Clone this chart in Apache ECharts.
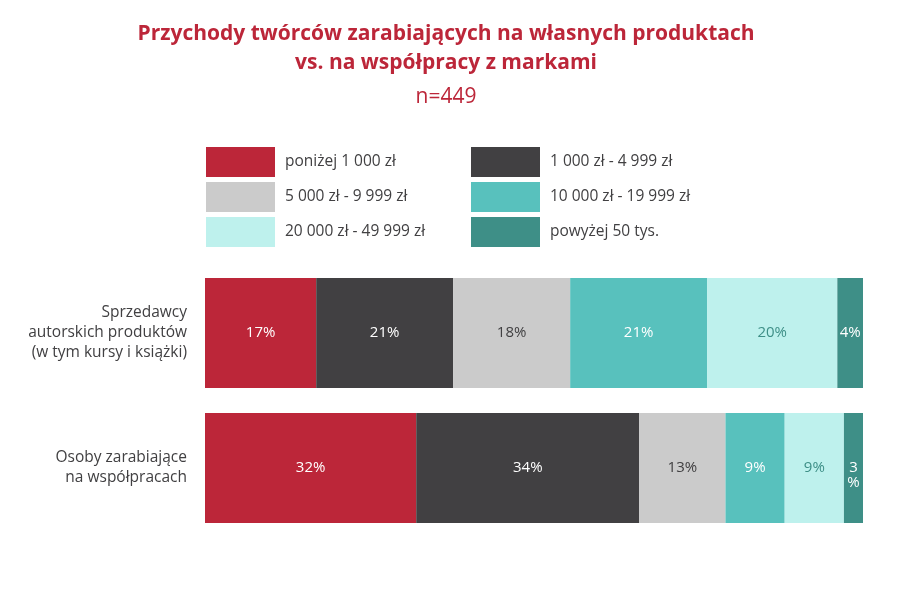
<!DOCTYPE html>
<html>
<head>
<meta charset="utf-8">
<script src="https://cdn.jsdelivr.net/npm/echarts@6/dist/echarts.min.js"></script>
<style>
html,body{margin:0;padding:0;background:#fff;}
#chart{width:906px;height:604px;}
</style>
</head>
<body>
<div id="chart"></div>
<script>
var categories = ['Sprzedawcy\nautorskich produktów\n(w tym kursy i książki)', 'Osoby zarabiające\nna współpracach'];
var seriesNames = ['poniżej 1 000 zł', '1 000 zł - 4 999 zł', '5 000 zł - 9 999 zł', '10 000 zł - 19 999 zł', '20 000 zł - 49 999 zł', 'powyżej 50 tys.'];
var below1k   = [16.9, 32.1];
var from1k    = [20.8, 33.9];
var from5k    = [17.8, 13.1];
var from10k   = [20.8, 9.0];
var from20k   = [19.8, 9.0];
var above50k  = [3.9, 3.0];
var seriesData = [below1k, from1k, from5k, from10k, from20k, above50k];

var colors = ['#bc2639', '#414042', '#cbcbcb', '#58c1bd', '#bef1ed', '#3e8f87'];
var labelColors = ['#ffffff', '#ffffff', '#414042', '#ffffff', '#3e8f87', '#ffffff'];
var font = '"Open Sans", Lato, sans-serif';

var series = [];
for (var i = 0; i < seriesNames.length; i++) {
    series.push({
        name: seriesNames[i],
        type: 'bar',
        stack: 'total',
        barCategoryGap: '18.5%',
        data: seriesData[i].map(function (v) {
            // waski segment - "%" spada do drugiej linii
            return v < 3.5 ? { value: v, label: { offset: [0, 7] } } : v;
        }),
        itemStyle: { color: colors[i] },
        label: {
            show: true,
            position: 'inside',
            color: labelColors[i],
            fontFamily: font,
            fontSize: 15,
            lineHeight: 15,
            formatter: function (p) {
                var v = Math.round(p.value);
                return p.value < 3.5 ? v + '\n%' : v + '%';
            }
        }
    });
}

var legendStyle = {
    orient: 'vertical',
    top: 147,
    padding: 0,
    itemWidth: 69,
    itemHeight: 30,
    itemGap: 5,
    icon: 'rect',
    selectedMode: false,
    textStyle: { color: '#414042', fontFamily: font, fontSize: 15.5, padding: [0, 0, 0, 5] }
};

var option = {
    animation: false,
    color: colors,
    title: [
        {
            text: 'Przychody twórców zarabiających na własnych produktach\nvs. na współpracy z markami',
            left: 441,
            top: 15,
            textAlign: 'center',
            textStyle: { color: '#bc2639', fontFamily: font, fontWeight: 'bold', fontSize: 21, lineHeight: 29 }
        },
        {
            text: 'n=449',
            left: 441,
            top: 82,
            textAlign: 'center',
            textStyle: { color: '#bc2639', fontFamily: font, fontWeight: 'normal', fontSize: 21 }
        }
    ],
    legend: [
        Object.assign({ left: 206, data: [seriesNames[0], seriesNames[2], seriesNames[4]] }, legendStyle),
        Object.assign({ left: 471, data: [seriesNames[1], seriesNames[3], seriesNames[5]] }, legendStyle)
    ],
    grid: { left: 205, right: 43, top: 265.5, bottom: 68.5, containLabel: false },
    xAxis: {
        type: 'value',
        min: 0,
        max: 100,
        show: false
    },
    yAxis: {
        type: 'category',
        inverse: true,
        data: categories,
        axisLine: { show: false },
        axisTick: { show: false },
        axisLabel: {
            margin: 18,
            color: '#414042',
            fontFamily: font,
            fontSize: 15.5,
            lineHeight: 20,
            align: 'right'
        }
    },
    series: series
};

var chart = echarts.init(document.getElementById('chart'));
chart.setOption(option);
</script>
</body>
</html>
